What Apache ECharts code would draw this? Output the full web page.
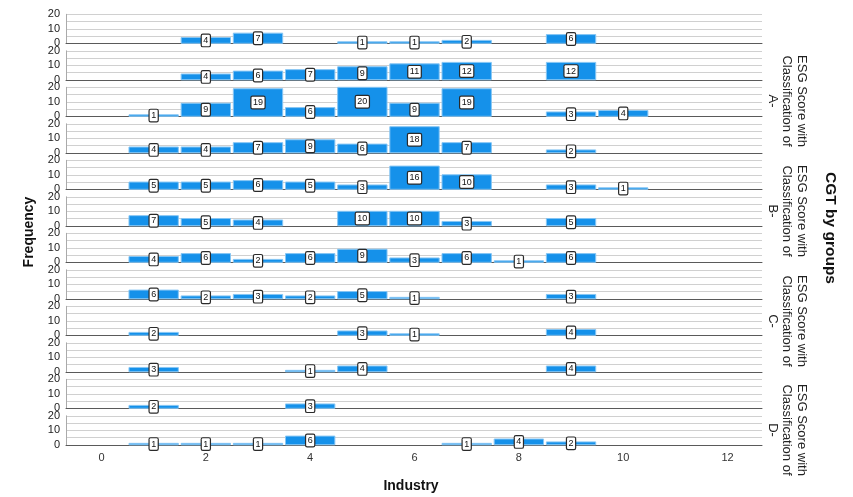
<!DOCTYPE html>
<html>
<head>
<meta charset="utf-8">
<script src="https://cdn.jsdelivr.net/npm/echarts@6/dist/echarts.min.js"></script>
<style>
html,body{margin:0;padding:0;background:#fff;}
#chart{width:853px;height:497px;}
</style>
</head>
<body>
<div id="chart"></div>
<script>
// Industry codes (x categories)
const industries = [1, 2, 3, 4, 5, 6, 7, 8, 9, 10];
// Frequencies per panel (null = no bar), three panels per group
const panelA1 = [null, 4, 7, null, 1, 1, 2, null, 6, null];
const panelA2 = [null, 4, 6, 7, 9, 11, 12, null, 12, null];
const panelA3 = [1, 9, 19, 6, 20, 9, 19, null, 3, 4];
const panelB1 = [4, 4, 7, 9, 6, 18, 7, null, 2, null];
const panelB2 = [5, 5, 6, 5, 3, 16, 10, null, 3, 1];
const panelB3 = [7, 5, 4, null, 10, 10, 3, null, 5, null];
const panelC1 = [4, 6, 2, 6, 9, 3, 6, 1, 6, null];
const panelC2 = [6, 2, 3, 2, 5, 1, null, null, 3, null];
const panelC3 = [2, null, null, null, 3, 1, null, null, 4, null];
const panelD1 = [3, null, null, 1, 4, null, null, null, 4, null];
const panelD2 = [2, null, null, 3, null, null, null, null, null, null];
const panelD3 = [1, 1, 1, 6, null, null, 1, 4, 2, null];
const xTickLabels = [0, 2, 4, 6, 8, 10, 12];
const groupNames = ['A-', 'B-', 'C-', 'D-'];

const panels = [panelA1, panelA2, panelA3, panelB1, panelB2, panelB3,
                panelC1, panelC2, panelC3, panelD1, panelD2, panelD3];

const FONT = 'Liberation Sans, Arial, sans-serif';
const chart = echarts.init(document.getElementById('chart'), null, {renderer: 'canvas'});

function renderItem(params, api) {
  const x = api.value(0), v = api.value(1);
  const p0 = api.coord([x - 0.473, v]);
  const p1 = api.coord([x + 0.473, 0]);
  return {
    type: 'group',
    children: [
      {type: 'rect',
       shape: {x: p0[0], y: p0[1], width: p1[0] - p0[0], height: p1[1] - p0[1]},
       style: {fill: '#1591ea', stroke: '#86c6f4', lineWidth: 1}},
      {type: 'text', x: (p0[0] + p1[0]) / 2, y: (p0[1] + p1[1]) / 2, z2: 20,
       style: {text: String(v), align: 'center', verticalAlign: 'middle',
               fontSize: 9, fontFamily: FONT, fill: '#111',
               backgroundColor: '#fff', borderColor: '#2a2a2a', borderWidth: 1.2,
               borderRadius: 1, padding: [1.5, 1.5, 1, 1.5]}}
    ]
  };
}

const grids = [], xAxes = [], yAxes = [], series = [];
panels.forEach((vals, i) => {
  grids.push({left: 66, width: 696, top: 14.3 + i * 36.5, height: 29});
  xAxes.push({
    type: 'value', gridIndex: i, min: -0.68, max: 12.66,
    splitLine: {show: false}, axisTick: {show: false},
    axisLine: {show: true, onZero: true, lineStyle: {color: '#5a5a5a', width: 1}},
    axisLabel: i === panels.length - 1
      ? {customValues: xTickLabels, color: '#333', fontSize: 11, fontFamily: FONT, margin: 8}
      : {show: false}
  });
  yAxes.push({
    type: 'value', gridIndex: i, min: 0, max: 20, interval: 5,
    axisLine: {show: true, onZero: false, lineStyle: {color: '#aaaaaa'}},
    axisTick: {show: false},
    splitLine: {show: true, lineStyle: {color: '#d0d0d0', width: 1}},
    axisLabel: {formatter: v => (v % 10 === 0 ? String(v) : ''), color: '#222',
                fontSize: 11, fontFamily: FONT, margin: 6, padding: [3, 0, 0, 0]}
  });
  series.push({
    type: 'custom', xAxisIndex: i, yAxisIndex: i, clip: false, z: 5,
    data: industries.map((c, k) => [c, vals[k]]).filter(d => d[1] != null),
    renderItem: renderItem
  });
});

const graphics = [];
const groupCenters = [101, 211, 321, 430];
groupNames.forEach((g, k) => {
  graphics.push({type: 'text', x: 787, y: groupCenters[k], rotation: -Math.PI / 2,
    style: {text: 'ESG Score with\nClassification of\n' + g, align: 'center', verticalAlign: 'middle',
            fontSize: 13, lineHeight: 14.5, fontFamily: FONT, fill: '#222'}});
});
graphics.push({type: 'text', x: 830, y: 228, rotation: -Math.PI / 2,
  style: {text: 'CGT by groups', align: 'center', verticalAlign: 'middle',
          fontSize: 15.5, fontWeight: 'bold', fontFamily: FONT, fill: '#111'}});
graphics.push({type: 'text', x: 29, y: 232, rotation: Math.PI / 2,
  style: {text: 'Frequency', align: 'center', verticalAlign: 'middle',
          fontSize: 14, fontWeight: 'bold', fontFamily: FONT, fill: '#111'}});
graphics.push({type: 'text', x: 411, y: 486,
  style: {text: 'Industry', align: 'center', verticalAlign: 'middle',
          fontSize: 14, fontWeight: 'bold', fontFamily: FONT, fill: '#111'}});

chart.setOption({
  animation: false,
  backgroundColor: '#ffffff',
  grid: grids,
  xAxis: xAxes,
  yAxis: yAxes,
  series: series,
  graphic: graphics
});
</script>
</body>
</html>
